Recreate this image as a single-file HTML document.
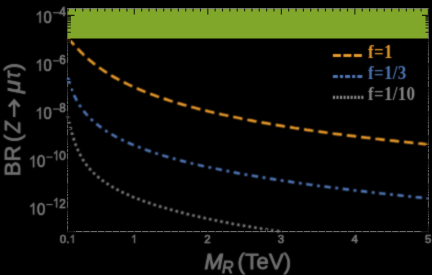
<!DOCTYPE html>
<html><head><meta charset="utf-8"><title>BR(Z to mu tau)</title>
<style>
html,body{margin:0;padding:0;background:#000;}
body{width:432px;height:275px;overflow:hidden;}
svg{display:block;will-change:transform;}
text{font-family:"Liberation Sans",sans-serif;fill:#6e6e6e;stroke:#6e6e6e;stroke-width:0.6px;}
.tk{fill:#7b7b7b;stroke:#7b7b7b;}
.leg text{font-family:"Liberation Serif",serif;font-weight:bold;font-size:17px;stroke-width:0px;letter-spacing:0.3px;}
</style></head><body>
<svg width="432" height="275" viewBox="0 0 432 275">
<defs><filter id="sb" x="0" y="0" width="432" height="275" filterUnits="userSpaceOnUse" color-interpolation-filters="sRGB"><feConvolveMatrix order="3" kernelMatrix="1 2 1 2 14 2 1 2 1" divisor="26" edgeMode="duplicate" preserveAlpha="false"/></filter><filter id="sc" x="0" y="0" width="432" height="275" filterUnits="userSpaceOnUse" color-interpolation-filters="sRGB"><feConvolveMatrix order="3" kernelMatrix="1 2 1 2 5 2 1 2 1" divisor="17" edgeMode="duplicate" preserveAlpha="false"/></filter></defs>
<rect width="432" height="275" fill="#000"/>
<rect x="67.1" y="8.1" width="361.8" height="30.4" fill="#80a62a"/>
<g filter="url(#sc)">
<path d="M67.8,38.6 L68.3,39.0 L68.8,39.3 L69.3,39.8 L69.8,40.2 L70.3,40.7 L70.8,41.2 L71.3,41.7 L71.8,42.2 L72.3,42.7 L72.8,43.2 L73.3,43.8 L73.8,44.3 L74.3,44.8 L74.8,45.4 L75.3,45.9 L75.8,46.5 L76.3,47.0 L76.8,47.5 L77.3,48.1 L77.8,48.6 L78.3,49.1 L78.8,49.6 L79.3,50.1 L79.8,50.6 L80.3,51.2 L80.8,51.7 L81.3,52.2 L81.8,52.6 L82.3,53.1 L82.7,53.6 L83.2,54.1 L83.7,54.6 L84.2,55.0 L84.7,55.5 L85.2,56.0 L85.7,56.4 L86.2,56.9 L86.7,57.3 L87.2,57.8 L87.7,58.2 L88.2,58.7 L88.7,59.1 L89.2,59.5 L89.7,59.9 L90.2,60.4 L90.7,60.8 L91.2,61.2 L91.7,61.6 L92.2,62.0 L92.7,62.4 L93.2,62.8 L93.7,63.2 L94.2,63.6 L94.7,64.0 L95.2,64.4 L95.7,64.7 L96.2,65.1 L96.7,65.5 L97.2,65.9 L99.6,67.6 L102.0,69.2 L104.3,70.8 L106.7,72.4 L109.1,73.9 L111.5,75.3 L113.9,76.7 L116.2,78.0 L118.6,79.3 L121.0,80.6 L123.4,81.8 L125.8,83.0 L128.1,84.1 L130.5,85.3 L132.9,86.3 L135.3,87.4 L137.7,88.4 L140.0,89.4 L142.4,90.4 L144.8,91.4 L147.2,92.3 L149.5,93.2 L151.9,94.1 L154.3,95.0 L156.7,95.9 L159.1,96.7 L161.4,97.5 L163.8,98.3 L166.2,99.1 L168.6,99.9 L171.0,100.7 L173.3,101.4 L175.7,102.1 L178.1,102.9 L180.5,103.6 L182.9,104.3 L185.2,104.9 L187.6,105.6 L190.0,106.3 L192.4,106.9 L194.8,107.5 L197.1,108.2 L199.5,108.8 L201.9,109.4 L204.3,110.0 L206.7,110.6 L209.0,111.2 L211.4,111.7 L213.8,112.3 L216.2,112.8 L218.6,113.4 L220.9,113.9 L223.3,114.5 L225.7,115.0 L228.1,115.5 L230.5,116.0 L232.8,116.5 L235.2,117.0 L237.6,117.5 L240.0,118.0 L242.3,118.5 L244.7,118.9 L247.1,119.4 L249.5,119.9 L251.9,120.3 L254.2,120.8 L256.6,121.2 L259.0,121.6 L261.4,122.1 L263.8,122.5 L266.1,122.9 L268.5,123.3 L270.9,123.8 L273.3,124.2 L275.7,124.6 L278.0,125.0 L280.4,125.4 L282.8,125.8 L285.2,126.2 L287.6,126.5 L289.9,126.9 L292.3,127.3 L294.7,127.7 L297.1,128.0 L299.5,128.4 L301.8,128.8 L304.2,129.1 L306.6,129.5 L309.0,129.8 L311.4,130.2 L313.7,130.5 L316.1,130.9 L318.5,131.2 L320.9,131.5 L323.3,131.9 L325.6,132.2 L328.0,132.5 L330.4,132.8 L332.8,133.2 L335.1,133.5 L337.5,133.8 L339.9,134.1 L342.3,134.4 L344.7,134.7 L347.0,135.0 L349.4,135.3 L351.8,135.6 L354.2,135.9 L356.6,136.2 L358.9,136.5 L361.3,136.8 L363.7,137.1 L366.1,137.4 L368.5,137.6 L370.8,137.9 L373.2,138.2 L375.6,138.5 L378.0,138.7 L380.4,139.0 L382.7,139.3 L385.1,139.6 L387.5,139.8 L389.9,140.1 L392.3,140.3 L394.6,140.6 L397.0,140.9 L399.4,141.1 L401.8,141.4 L404.2,141.6 L406.5,141.9 L408.9,142.1 L411.3,142.4 L413.7,142.6 L416.1,142.8 L418.4,143.1 L420.8,143.3 L423.2,143.6 L425.6,143.8 L428.0,144.0" fill="none" stroke="#e6982a" stroke-width="2.7" stroke-dasharray="9.42 4.97" stroke-dashoffset="0.6" transform="translate(0,0.3)"/>
<path d="M67.8,76.5 L68.3,78.5 L68.8,80.4 L69.3,82.2 L69.8,83.8 L70.3,85.4 L70.8,86.9 L71.3,88.3 L71.8,89.7 L72.3,91.0 L72.8,92.2 L73.3,93.4 L73.8,94.5 L74.3,95.6 L74.8,96.7 L75.3,97.7 L75.8,98.7 L76.3,99.6 L76.8,100.5 L77.3,101.4 L77.8,102.3 L78.3,103.1 L78.8,103.9 L79.3,104.7 L79.8,105.5 L80.3,106.2 L80.8,107.0 L81.3,107.7 L81.8,108.4 L82.3,109.1 L82.7,109.7 L83.2,110.4 L83.7,111.0 L84.2,111.6 L84.7,112.3 L85.2,112.9 L85.7,113.4 L86.2,114.0 L86.7,114.6 L87.2,115.1 L87.7,115.7 L88.2,116.2 L88.7,116.7 L89.2,117.2 L89.7,117.7 L90.2,118.2 L90.7,118.7 L91.2,119.2 L91.7,119.7 L92.2,120.2 L92.7,120.6 L93.2,121.1 L93.7,121.5 L94.2,121.9 L94.7,122.4 L95.2,122.8 L95.7,123.2 L96.2,123.6 L96.7,124.0 L97.2,124.5 L99.6,126.3 L102.0,128.1 L104.3,129.7 L106.7,131.3 L109.1,132.8 L111.5,134.2 L113.9,135.6 L116.2,136.9 L118.6,138.1 L121.0,139.3 L123.4,140.5 L125.8,141.6 L128.1,142.7 L130.5,143.8 L132.9,144.8 L135.3,145.8 L137.7,146.7 L140.0,147.6 L142.4,148.6 L144.8,149.4 L147.2,150.3 L149.5,151.1 L151.9,151.9 L154.3,152.7 L156.7,153.5 L159.1,154.3 L161.4,155.0 L163.8,155.8 L166.2,156.5 L168.6,157.2 L171.0,157.9 L173.3,158.5 L175.7,159.2 L178.1,159.8 L180.5,160.5 L182.9,161.1 L185.2,161.7 L187.6,162.3 L190.0,162.9 L192.4,163.5 L194.8,164.0 L197.1,164.6 L199.5,165.2 L201.9,165.7 L204.3,166.3 L206.7,166.8 L209.0,167.3 L211.4,167.8 L213.8,168.3 L216.2,168.8 L218.6,169.3 L220.9,169.8 L223.3,170.3 L225.7,170.8 L228.1,171.2 L230.5,171.7 L232.8,172.2 L235.2,172.6 L237.6,173.1 L240.0,173.5 L242.3,173.9 L244.7,174.4 L247.1,174.8 L249.5,175.2 L251.9,175.6 L254.2,176.0 L256.6,176.4 L259.0,176.8 L261.4,177.2 L263.8,177.6 L266.1,178.0 L268.5,178.4 L270.9,178.8 L273.3,179.2 L275.7,179.6 L278.0,179.9 L280.4,180.3 L282.8,180.7 L285.2,181.0 L287.6,181.4 L289.9,181.7 L292.3,182.1 L294.7,182.4 L297.1,182.8 L299.5,183.1 L301.8,183.5 L304.2,183.8 L306.6,184.1 L309.0,184.5 L311.4,184.8 L313.7,185.1 L316.1,185.4 L318.5,185.8 L320.9,186.1 L323.3,186.4 L325.6,186.7 L328.0,187.0 L330.4,187.3 L332.8,187.6 L335.1,187.9 L337.5,188.2 L339.9,188.5 L342.3,188.8 L344.7,189.1 L347.0,189.4 L349.4,189.7 L351.8,190.0 L354.2,190.3 L356.6,190.6 L358.9,190.8 L361.3,191.1 L363.7,191.4 L366.1,191.7 L368.5,191.9 L370.8,192.2 L373.2,192.5 L375.6,192.8 L378.0,193.0 L380.4,193.3 L382.7,193.5 L385.1,193.8 L387.5,194.1 L389.9,194.3 L392.3,194.6 L394.6,194.8 L397.0,195.1 L399.4,195.3 L401.8,195.6 L404.2,195.8 L406.5,196.1 L408.9,196.3 L411.3,196.6 L413.7,196.8 L416.1,197.1 L418.4,197.3 L420.8,197.6 L423.2,197.8 L425.6,198.0 L428.0,198.3" fill="none" stroke="#4e74b4" stroke-width="2.7" stroke-dasharray="6.4 4.55 2.9 4.52" stroke-dashoffset="-1.25"/>
<path d="M67.8,115.7 L68.3,118.1 L68.8,120.5 L69.3,122.7 L69.8,124.9 L70.3,127.0 L70.8,129.0 L71.3,130.9 L71.8,132.7 L72.3,134.5 L72.8,136.2 L73.3,137.8 L73.8,139.3 L74.3,140.8 L74.8,142.3 L75.3,143.6 L75.8,145.0 L76.3,146.2 L76.8,147.5 L77.3,148.6 L77.8,149.8 L78.3,150.9 L78.8,151.9 L79.3,153.0 L79.8,154.0 L80.3,154.9 L80.8,155.9 L81.3,156.8 L81.8,157.6 L82.3,158.5 L82.7,159.3 L83.2,160.1 L83.7,160.9 L84.2,161.7 L84.7,162.4 L85.2,163.1 L85.7,163.8 L86.2,164.5 L86.7,165.2 L87.2,165.8 L87.7,166.4 L88.2,167.1 L88.7,167.7 L89.2,168.3 L89.7,168.8 L90.2,169.4 L90.7,170.0 L91.2,170.5 L91.7,171.0 L92.2,171.6 L92.7,172.1 L93.2,172.6 L93.7,173.1 L94.2,173.6 L94.7,174.0 L95.2,174.5 L95.7,175.0 L96.2,175.4 L96.7,175.9 L97.2,176.3 L99.6,178.3 L102.0,180.1 L104.3,181.8 L106.7,183.4 L109.1,185.0 L111.5,186.4 L113.9,187.8 L116.2,189.1 L118.6,190.3 L121.0,191.5 L123.4,192.7 L125.8,193.8 L128.1,194.8 L130.5,195.9 L132.9,196.9 L135.3,197.8 L137.7,198.8 L140.0,199.7 L142.4,200.6 L144.8,201.4 L147.2,202.3 L149.5,203.1 L151.9,203.9 L154.3,204.7 L156.7,205.4 L159.1,206.2 L161.4,206.9 L163.8,207.6 L166.2,208.3 L168.6,209.0 L171.0,209.7 L173.3,210.4 L175.7,211.0 L178.1,211.7 L180.5,212.3 L182.9,212.9 L185.2,213.5 L187.6,214.1 L190.0,214.7 L192.4,215.3 L194.8,215.8 L197.1,216.4 L199.5,216.9 L201.9,217.5 L204.3,218.0 L206.7,218.5 L209.0,219.0 L211.4,219.5 L213.8,220.0 L216.2,220.5 L218.6,221.0 L220.9,221.5 L223.3,222.0 L225.7,222.4 L228.1,222.9 L230.5,223.3 L232.8,223.8 L235.2,224.2 L237.6,224.7 L240.0,225.1 L242.3,225.5 L244.7,225.9 L247.1,226.3 L249.5,226.7 L251.9,227.1 L254.2,227.5 L256.6,227.9 L259.0,228.3 L261.4,228.7 L263.8,229.0 L266.1,229.4 L268.5,229.8 L270.9,230.1 L273.3,230.5 L275.7,230.8 L278.0,231.1 L280.4,231.5 L282.8,231.8" fill="none" stroke="#7f7f7f" stroke-width="2.7" stroke-dasharray="2.6 3.14" stroke-dashoffset="-0.05"/>
</g>
<g filter="url(#sb)">
<text class="tk" transform="translate(65.9,15.7) scale(1,1.15)" text-anchor="end" font-size="11.8">4</text><rect x="53.0" y="12.2" width="6.2" height="1.1" fill="#7b7b7b"/><path d="M40.79,22.80 L40.79,11.00 L39.95,11.00 L38.97,12.42 L36.87,13.90 L36.87,15.30 L38.23,14.56 L39.48,13.57 L39.48,22.80Z" fill="#7b7b7b" stroke="#7b7b7b" stroke-width="0.35" stroke-linejoin="round"/><text class="tk" transform="translate(51.8,22.8) scale(0.93,1.03)" text-anchor="end" font-size="16">0</text>
<text class="tk" transform="translate(65.9,63.9) scale(1,1.15)" text-anchor="end" font-size="11.8">6</text><rect x="53.0" y="60.3" width="6.2" height="1.1" fill="#7b7b7b"/><path d="M40.79,70.96 L40.79,59.16 L39.95,59.16 L38.97,60.57 L36.87,62.06 L36.87,63.46 L38.23,62.72 L39.48,61.73 L39.48,70.96Z" fill="#7b7b7b" stroke="#7b7b7b" stroke-width="0.35" stroke-linejoin="round"/><text class="tk" transform="translate(51.8,71.0) scale(0.93,1.03)" text-anchor="end" font-size="16">0</text>
<text class="tk" transform="translate(65.9,112.0) scale(1,1.15)" text-anchor="end" font-size="11.8">8</text><rect x="53.0" y="108.5" width="6.2" height="1.1" fill="#7b7b7b"/><path d="M40.79,119.11 L40.79,107.31 L39.95,107.31 L38.97,108.73 L36.87,110.21 L36.87,111.61 L38.23,110.87 L39.48,109.88 L39.48,119.11Z" fill="#7b7b7b" stroke="#7b7b7b" stroke-width="0.35" stroke-linejoin="round"/><text class="tk" transform="translate(51.8,119.1) scale(0.93,1.03)" text-anchor="end" font-size="16">0</text>
<path d="M57.17,160.17 L57.17,150.45 L56.51,150.45 L55.73,151.62 L54.06,152.84 L54.06,153.99 L55.14,153.38 L56.13,152.57 L56.13,160.17Z" fill="#7b7b7b" stroke="#7b7b7b" stroke-width="0.35" stroke-linejoin="round"/><text class="tk" transform="translate(65.9,160.2) scale(1,1.15)" text-anchor="end" font-size="11.8">0</text><rect x="46.4" y="156.6" width="6.2" height="1.1" fill="#7b7b7b"/><path d="M34.22,167.27 L34.22,155.47 L33.39,155.47 L32.41,156.88 L30.31,158.37 L30.31,159.77 L31.67,159.03 L32.92,158.04 L32.92,167.27Z" fill="#7b7b7b" stroke="#7b7b7b" stroke-width="0.35" stroke-linejoin="round"/><text class="tk" transform="translate(45.2,167.3) scale(0.93,1.03)" text-anchor="end" font-size="16">0</text>
<path d="M57.17,207.52 L57.17,197.81 L56.51,197.81 L55.73,198.97 L54.06,200.19 L54.06,201.35 L55.14,200.74 L56.13,199.92 L56.13,207.52Z" fill="#7b7b7b" stroke="#7b7b7b" stroke-width="0.35" stroke-linejoin="round"/><text class="tk" transform="translate(65.9,207.5) scale(1,1.15)" text-anchor="end" font-size="11.8">2</text><rect x="46.4" y="204.0" width="6.2" height="1.1" fill="#7b7b7b"/><path d="M34.22,214.62 L34.22,202.82 L33.39,202.82 L32.41,204.24 L30.31,205.72 L30.31,207.12 L31.67,206.38 L32.92,205.39 L32.92,214.62Z" fill="#7b7b7b" stroke="#7b7b7b" stroke-width="0.35" stroke-linejoin="round"/><text class="tk" transform="translate(45.2,214.6) scale(0.93,1.03)" text-anchor="end" font-size="16">0</text>
<text class="tk" x="59.8" y="242.9" font-size="11.5">0.</text><path d="M73.68,242.90 L73.68,234.67 L73.03,234.67 L72.27,235.66 L70.65,236.69 L70.65,237.67 L71.70,237.15 L72.66,236.46 L72.66,242.90Z" fill="#7b7b7b" stroke="#7b7b7b" stroke-width="0.35" stroke-linejoin="round"/><path d="M135.06,242.90 L135.06,234.67 L134.41,234.67 L133.66,235.66 L132.03,236.69 L132.03,237.67 L133.08,237.15 L134.05,236.46 L134.05,242.90Z" fill="#7b7b7b" stroke="#7b7b7b" stroke-width="0.35" stroke-linejoin="round"/><text class="tk" x="207.5" y="242.9" text-anchor="middle" font-size="11.5">2</text>
<text class="tk" x="281.0" y="242.9" text-anchor="middle" font-size="11.5">3</text>
<text class="tk" x="354.6" y="242.9" text-anchor="middle" font-size="11.5">4</text>
<text class="tk" x="428.1" y="242.9" text-anchor="middle" font-size="11.5">5</text>

<text x="204.6" y="268.6" font-size="22" style="stroke-width:0.85px"><tspan font-style="italic" style="stroke-width:1.05px">M</tspan><tspan font-style="italic" font-size="16" dy="4.2" dx="-1">R</tspan><tspan dy="-4.2" dx="0"> </tspan><tspan dx="-2" letter-spacing="0.25">(TeV)</tspan></text>
<text transform="translate(19.8,176.2) rotate(-90)" font-size="22" style="stroke-width:0.85px">B</text><text transform="translate(19.8,161.5) rotate(-90)" font-size="22" style="stroke-width:0.85px">R</text><text transform="translate(19.8,142.0) rotate(-90)" font-size="22" style="stroke-width:0.85px">(</text><text transform="translate(19.8,132.8) rotate(-90) scale(0.85,1)" font-size="22" font-style="italic" style="stroke-width:0.85px">Z</text><text transform="translate(19.8,93.3) rotate(-90) scale(1.1,1)" font-size="22" font-style="italic" style="stroke-width:0.85px">μ</text><text transform="translate(19.8,78.4) rotate(-90) scale(0.85,1)" font-size="22" font-style="italic" style="stroke-width:0.85px">τ</text><text transform="translate(19.8,70.5) rotate(-90)" font-size="22" style="stroke-width:0.85px">)</text>
<path d="M14.2,117V101" fill="none" stroke="#6e6e6e" stroke-width="2.5"/><path d="M8.9,106.6L14.2,100.6L19.5,106.6" fill="none" stroke="#6e6e6e" stroke-width="2.9" stroke-linejoin="miter"/>
<g class="leg">
<path d="M332.9,55.5H362" stroke="#e6982a" stroke-width="3.2" stroke-dasharray="8 2.5" fill="none"/>
<text transform="translate(368,57.9) scale(1,1.07)" style="fill:#e6982a;stroke:#e6982a">f=1</text>
<path d="M332.9,76.5H363" stroke="#4e74b4" stroke-width="3.2" stroke-dasharray="5 2 3.2 2" fill="none"/>
<text transform="translate(368,79) scale(1,1.07)" style="fill:#4e74b4;stroke:#4e74b4">f=1/3</text>
<path d="M332.9,97.4H364" stroke="#8c8c8c" stroke-width="3.2" stroke-dasharray="2.1 1.45" fill="none"/>
<text transform="translate(368,100) scale(1,1.07)" style="fill:#868686;stroke:#868686">f=1/10</text>
</g>
</g>
<path d="M67.6,8.4V232.1M428.4,8.4V232.1" fill="none" stroke="#606060" stroke-width="1"/>
<path d="M67.1,231.6H428.9M67.1,8.6H428.9" fill="none" stroke="#787878" stroke-width="1"/>
<path d="M68.10,232.1v-3.0M68.10,8.4v3.0M75.45,232.1v-3.0M75.45,8.4v3.0M82.81,232.1v-3.0M82.81,8.4v3.0M90.16,232.1v-3.0M90.16,8.4v3.0M97.51,232.1v-3.0M97.51,8.4v3.0M104.87,232.1v-3.0M104.87,8.4v3.0M112.22,232.1v-3.0M112.22,8.4v3.0M119.57,232.1v-3.0M119.57,8.4v3.0M126.92,232.1v-3.0M126.92,8.4v3.0M134.28,232.1v-6.0M134.28,8.4v6.0M141.63,232.1v-3.0M141.63,8.4v3.0M148.98,232.1v-3.0M148.98,8.4v3.0M156.34,232.1v-3.0M156.34,8.4v3.0M163.69,232.1v-3.0M163.69,8.4v3.0M171.04,232.1v-3.0M171.04,8.4v3.0M178.40,232.1v-3.0M178.40,8.4v3.0M185.75,232.1v-3.0M185.75,8.4v3.0M193.10,232.1v-3.0M193.10,8.4v3.0M200.46,232.1v-3.0M200.46,8.4v3.0M207.81,232.1v-6.0M207.81,8.4v6.0M215.16,232.1v-3.0M215.16,8.4v3.0M222.51,232.1v-3.0M222.51,8.4v3.0M229.87,232.1v-3.0M229.87,8.4v3.0M237.22,232.1v-3.0M237.22,8.4v3.0M244.57,232.1v-3.0M244.57,8.4v3.0M251.93,232.1v-3.0M251.93,8.4v3.0M259.28,232.1v-3.0M259.28,8.4v3.0M266.63,232.1v-3.0M266.63,8.4v3.0M273.99,232.1v-3.0M273.99,8.4v3.0M281.34,232.1v-6.0M281.34,8.4v6.0M288.69,232.1v-3.0M288.69,8.4v3.0M296.04,232.1v-3.0M296.04,8.4v3.0M303.40,232.1v-3.0M303.40,8.4v3.0M310.75,232.1v-3.0M310.75,8.4v3.0M318.10,232.1v-3.0M318.10,8.4v3.0M325.46,232.1v-3.0M325.46,8.4v3.0M332.81,232.1v-3.0M332.81,8.4v3.0M340.16,232.1v-3.0M340.16,8.4v3.0M347.52,232.1v-3.0M347.52,8.4v3.0M354.87,232.1v-6.0M354.87,8.4v6.0M362.22,232.1v-3.0M362.22,8.4v3.0M369.58,232.1v-3.0M369.58,8.4v3.0M376.93,232.1v-3.0M376.93,8.4v3.0M384.28,232.1v-3.0M384.28,8.4v3.0M391.63,232.1v-3.0M391.63,8.4v3.0M398.99,232.1v-3.0M398.99,8.4v3.0M406.34,232.1v-3.0M406.34,8.4v3.0M413.69,232.1v-3.0M413.69,8.4v3.0M421.05,232.1v-3.0M421.05,8.4v3.0M428.40,232.1v-6.0M428.40,8.4v6.0M67.1,231.60h7.4M428.9,231.60h-6.9M67.1,224.85h3.9M428.9,224.85h-3.4M67.1,220.61h3.9M428.9,220.61h-3.4M67.1,217.60h3.9M428.9,217.60h-3.4M67.1,215.27h3.9M428.9,215.27h-3.4M67.1,213.36h3.9M428.9,213.36h-3.4M67.1,211.75h3.9M428.9,211.75h-3.4M67.1,210.36h3.9M428.9,210.36h-3.4M67.1,209.12h3.9M428.9,209.12h-3.4M67.1,208.02h7.4M428.9,208.02h-6.9M67.1,200.77h3.9M428.9,200.77h-3.4M67.1,196.53h3.9M428.9,196.53h-3.4M67.1,193.53h3.9M428.9,193.53h-3.4M67.1,191.19h3.9M428.9,191.19h-3.4M67.1,189.29h3.9M428.9,189.29h-3.4M67.1,187.67h3.9M428.9,187.67h-3.4M67.1,186.28h3.9M428.9,186.28h-3.4M67.1,185.05h3.9M428.9,185.05h-3.4M67.1,183.94h7.4M428.9,183.94h-6.9M67.1,176.70h3.9M428.9,176.70h-3.4M67.1,172.46h3.9M428.9,172.46h-3.4M67.1,169.45h3.9M428.9,169.45h-3.4M67.1,167.11h3.9M428.9,167.11h-3.4M67.1,165.21h3.9M428.9,165.21h-3.4M67.1,163.60h3.9M428.9,163.60h-3.4M67.1,162.20h3.9M428.9,162.20h-3.4M67.1,160.97h3.9M428.9,160.97h-3.4M67.1,159.87h7.4M428.9,159.87h-6.9M67.1,152.62h3.9M428.9,152.62h-3.4M67.1,148.38h3.9M428.9,148.38h-3.4M67.1,145.37h3.9M428.9,145.37h-3.4M67.1,143.04h3.9M428.9,143.04h-3.4M67.1,141.13h3.9M428.9,141.13h-3.4M67.1,139.52h3.9M428.9,139.52h-3.4M67.1,138.12h3.9M428.9,138.12h-3.4M67.1,136.89h3.9M428.9,136.89h-3.4M67.1,135.79h7.4M428.9,135.79h-6.9M67.1,128.54h3.9M428.9,128.54h-3.4M67.1,124.30h3.9M428.9,124.30h-3.4M67.1,121.29h3.9M428.9,121.29h-3.4M67.1,118.96h3.9M428.9,118.96h-3.4M67.1,117.05h3.9M428.9,117.05h-3.4M67.1,115.44h3.9M428.9,115.44h-3.4M67.1,114.04h3.9M428.9,114.04h-3.4M67.1,112.81h3.9M428.9,112.81h-3.4M67.1,111.71h7.4M428.9,111.71h-6.9M67.1,104.46h3.9M428.9,104.46h-3.4M67.1,100.22h3.9M428.9,100.22h-3.4M67.1,97.21h3.9M428.9,97.21h-3.4M67.1,94.88h3.9M428.9,94.88h-3.4M67.1,92.97h3.9M428.9,92.97h-3.4M67.1,91.36h3.9M428.9,91.36h-3.4M67.1,89.97h3.9M428.9,89.97h-3.4M67.1,88.74h3.9M428.9,88.74h-3.4M67.1,87.63h7.4M428.9,87.63h-6.9M67.1,80.39h3.9M428.9,80.39h-3.4M67.1,76.15h3.9M428.9,76.15h-3.4M67.1,73.14h3.9M428.9,73.14h-3.4M67.1,70.80h3.9M428.9,70.80h-3.4M67.1,68.90h3.9M428.9,68.90h-3.4M67.1,67.29h3.9M428.9,67.29h-3.4M67.1,65.89h3.9M428.9,65.89h-3.4M67.1,64.66h3.9M428.9,64.66h-3.4M67.1,63.56h7.4M428.9,63.56h-6.9M67.1,56.31h3.9M428.9,56.31h-3.4M67.1,52.07h3.9M428.9,52.07h-3.4M67.1,49.06h3.9M428.9,49.06h-3.4M67.1,46.73h3.9M428.9,46.73h-3.4M67.1,44.82h3.9M428.9,44.82h-3.4M67.1,43.21h3.9M428.9,43.21h-3.4M67.1,41.81h3.9M428.9,41.81h-3.4M67.1,40.58h3.9M428.9,40.58h-3.4M67.1,39.48h7.4M428.9,39.48h-6.9M67.1,32.23h3.9M428.9,32.23h-3.4M67.1,27.99h3.9M428.9,27.99h-3.4M67.1,24.98h3.9M428.9,24.98h-3.4M67.1,22.65h3.9M428.9,22.65h-3.4M67.1,20.74h3.9M428.9,20.74h-3.4M67.1,19.13h3.9M428.9,19.13h-3.4M67.1,17.73h3.9M428.9,17.73h-3.4M67.1,16.50h3.9M428.9,16.50h-3.4M67.1,15.40h7.4M428.9,15.40h-6.9" fill="none" stroke="#000" stroke-opacity="0.8" stroke-width="1.1"/>
</svg>
</body></html>
